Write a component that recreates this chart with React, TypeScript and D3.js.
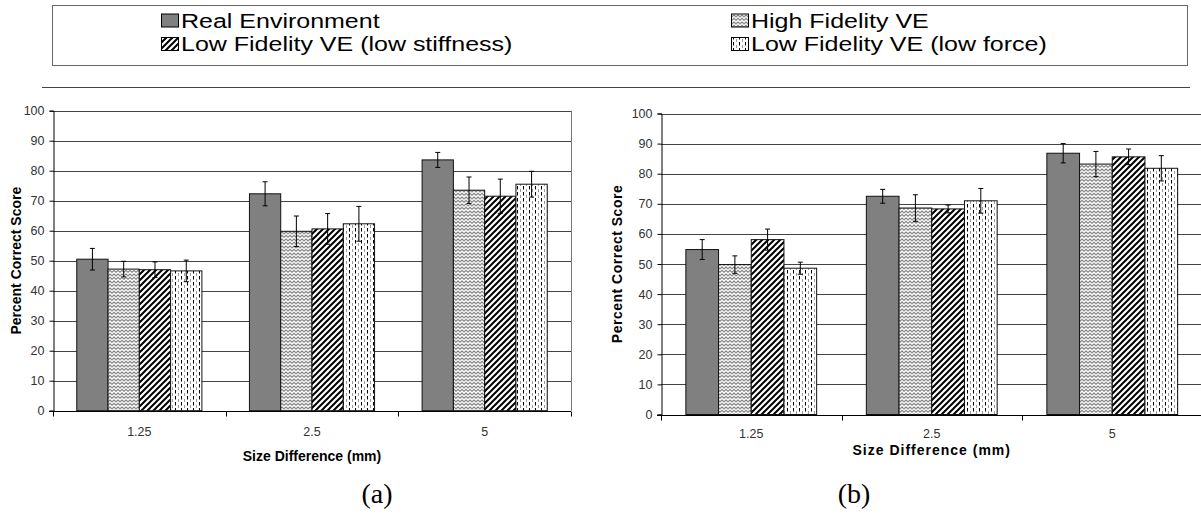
import React, { useEffect, useRef } from 'react';
import * as d3 from 'd3';

const width = 1201;
const height = 519;

const categories = ['1.25', '2.5', '5'];
const seriesNames = [
  'Real Environment',
  'High Fidelity VE',
  'Low Fidelity VE (low stiffness)',
  'Low Fidelity VE (low force)',
];
const seriesKeys = ['real', 'high', 'stiff', 'force'];

// panel (a) - means and error half-widths per series, by size difference
const realA = [50.5, 72.3, 83.6];
const highA = [47.2, 59.8, 73.5];
const stiffA = [47.0, 60.6, 71.5];
const forceA = [46.6, 62.3, 75.5];
const realErrA = [3.6, 4.0, 2.5];
const highErrA = [2.6, 5.1, 4.4];
const stiffErrA = [2.6, 5.1, 5.7];
const forceErrA = [3.6, 5.8, 4.3];

// panel (b)
const realB = [54.8, 72.5, 86.8];
const highB = [49.8, 68.6, 83.2];
const stiffB = [58.1, 68.3, 85.6];
const forceB = [48.6, 71.0, 81.8];
const realErrB = [3.3, 2.3, 3.2];
const highErrB = [2.9, 4.4, 4.2];
const stiffErrB = [3.5, 1.3, 2.6];
const forceErrB = [2.0, 4.1, 4.2];

const fills = ['#808080', 'url(#pat-high)', 'url(#pat-stiff)', 'url(#pat-force)'];

interface IPanel {
  label: string;
  values: number[][];
  errors: number[][];
  left: number;
  right: number;
  top: number;
  bottom: number;
  yTitleX: number;
  tickBaseline: number;
  titleBaseline: number;
  titleSpacing: number;
  labelX: number;
}

const panels: IPanel[] = [
  {
    label: '(a)',
    values: [realA, highA, stiffA, forceA],
    errors: [realErrA, highErrA, stiffErrA, forceErrA],
    left: 53,
    right: 571,
    top: 110.7,
    bottom: 410.7,
    yTitleX: 21,
    tickBaseline: 436,
    titleBaseline: 461,
    titleSpacing: 0,
    labelX: 377,
  },
  {
    label: '(b)',
    values: [realB, highB, stiffB, forceB],
    errors: [realErrB, highErrB, stiffErrB, forceErrB],
    left: 661,
    right: 1202.5,
    top: 113.5,
    bottom: 414.5,
    yTitleX: 622,
    tickBaseline: 438,
    titleBaseline: 455,
    titleSpacing: 1,
    labelX: 854,
  },
];

const font = "'Liberation Sans', Arial, sans-serif";

const App: React.FC = () => {
  const containerRef = useRef<HTMLDivElement>(null);

  useEffect(() => {
    if (containerRef && containerRef.current) {
      drawFigure(containerRef.current);
    }
  }, [containerRef]);

  return <div ref={containerRef} style={{ position: 'absolute', left: 0, top: 0 }}></div>;
};

const drawFigure = (container: HTMLDivElement) => {
  d3.select(container).selectAll('*').remove();
  const svg = d3
    .select(container)
    .append('svg')
    .attr('width', width)
    .attr('height', height)
    .style('display', 'block')
    .style('background', '#fff');

  const defs = svg.append('defs');

  // zigzag
  const high = defs
    .append('pattern')
    .attr('id', 'pat-high')
    .attr('patternUnits', 'userSpaceOnUse')
    .attr('width', 4)
    .attr('height', 3.5);
  high.append('rect').attr('width', 4).attr('height', 3.5).attr('fill', '#fff');
  high
    .append('path')
    .attr('d', 'M-2,1 L0,2.8 L2,1 L4,2.8 L6,1')
    .attr('fill', 'none')
    .attr('stroke', '#666')
    .attr('stroke-width', 1);

  // diagonal stripes
  const stiff = defs
    .append('pattern')
    .attr('id', 'pat-stiff')
    .attr('patternUnits', 'userSpaceOnUse')
    .attr('width', 6)
    .attr('height', 6);
  stiff.append('rect').attr('width', 6).attr('height', 6).attr('fill', '#fff');
  stiff
    .append('path')
    .attr('d', 'M-1,7 L7,-1 M-1,1 L1,-1 M5,7 L7,5')
    .attr('stroke', '#000')
    .attr('stroke-width', 2);

  // vertical dashes
  const force = defs
    .append('pattern')
    .attr('id', 'pat-force')
    .attr('patternUnits', 'userSpaceOnUse')
    .attr('width', 6)
    .attr('height', 6);
  force.append('rect').attr('width', 6).attr('height', 6).attr('fill', '#fff');
  force
    .append('path')
    .attr('d', 'M1.5,0 L1.5,3.5')
    .attr('stroke', '#000')
    .attr('stroke-width', 1);
  force
    .append('path')
    .attr('d', 'M4.5,3 L4.5,6.5')
    .attr('stroke', '#999')
    .attr('stroke-width', 1);

  drawLegend(svg);
  panels.forEach((p) => drawPanel(svg, p));
};

const drawLegend = (svg: d3.Selection<SVGSVGElement, unknown, null, undefined>) => {
  const g = svg.append('g');
  g.append('rect')
    .attr('x', 52.5)
    .attr('y', 5.5)
    .attr('width', 1135)
    .attr('height', 60)
    .attr('fill', '#fff')
    .attr('stroke', '#666');

  g.append('line')
    .attr('x1', 42)
    .attr('x2', 1190)
    .attr('y1', 87.5)
    .attr('y2', 87.5)
    .attr('stroke', '#444');

  const cols = [161, 731];
  const rows = [20.5, 44];
  // left column: real / low stiffness, right column: high / low force
  seriesNames.forEach((name, si) => {
    const x = cols[si % 2];
    const y = rows[si < 2 ? 0 : 1];
    g.append('rect')
      .attr('x', x + 0.5)
      .attr('y', y - 6.5)
      .attr('width', 17)
      .attr('height', 13)
      .attr('fill', fills[si])
      .attr('stroke', '#000');
    g.append('text')
      .attr('transform', `translate(${x + 20},${y + 7.2}) scale(1.25,1)`)
      .style('font-family', font)
      .style('font-size', '20px')
      .attr('fill', '#000')
      .text(name);
  });
};

const drawPanel = (svg: d3.Selection<SVGSVGElement, unknown, null, undefined>, p: IPanel) => {
  const x0 = d3.scaleBand().domain(categories).range([p.left, p.right]);
  const x1 = d3.scaleBand().domain(seriesKeys).range([0, x0.bandwidth()]).paddingOuter(0.76);
  const y = d3.scaleLinear().domain([0, 100]).range([p.bottom, p.top]);

  const g = svg.append('g');

  // gridlines
  g.selectAll('.grid')
    .data(y.ticks(10).filter((d) => d > 0))
    .enter()
    .append('line')
    .attr('x1', p.left)
    .attr('x2', p.right)
    .attr('y1', (d) => Math.round(y(d)) + 0.5)
    .attr('y2', (d) => Math.round(y(d)) + 0.5)
    .attr('stroke', '#444')
    .attr('stroke-width', 1);

  // right frame edge
  g.append('line')
    .attr('x1', Math.round(p.right) + 0.5)
    .attr('x2', Math.round(p.right) + 0.5)
    .attr('y1', y(100))
    .attr('y2', y(0))
    .attr('stroke', '#777');

  // bars
  seriesKeys.forEach((key, si) => {
    const rows = categories.map((c, ci) => ({ c, v: p.values[si][ci], e: p.errors[si][ci] }));
    const sg = g.append('g');
    sg.selectAll('rect')
      .data(rows)
      .enter()
      .append('rect')
      .attr('x', (d) => x0(d.c)! + x1(key)!)
      .attr('y', (d) => y(d.v))
      .attr('width', x1.bandwidth())
      .attr('height', (d) => y(0) - y(d.v))
      .attr('fill', fills[si])
      .attr('stroke', '#111')
      .attr('stroke-width', 1);

    const cx = (d: { c: string }) => x0(d.c)! + x1(key)! + x1.bandwidth() / 2;
    sg.selectAll('path.err')
      .data(rows)
      .enter()
      .append('path')
      .attr(
        'd',
        (d) =>
          `M${cx(d)},${y(d.v + d.e)} L${cx(d)},${y(d.v - d.e)} ` +
          `M${cx(d) - 2.5},${y(d.v + d.e)} L${cx(d) + 2.5},${y(d.v + d.e)} ` +
          `M${cx(d) - 2.5},${y(d.v - d.e)} L${cx(d) + 2.5},${y(d.v - d.e)}`
      )
      .attr('fill', 'none')
      .attr('stroke', '#000')
      .attr('stroke-width', 1);
  });

  // y axis
  const yAxisG = g
    .append('g')
    .attr('transform', `translate(${Math.round(p.left) + 0.5},0)`)
    .call(d3.axisLeft(y).ticks(10).tickSize(4).tickPadding(5));
  yAxisG.selectAll('.domain, .tick line').attr('stroke', '#000');
  yAxisG
    .selectAll('text')
    .style('font-family', font)
    .style('font-size', '12.5px')
    .attr('fill', '#333');

  // x axis line and group boundary ticks
  const xAxisY = Math.round(y(0)) + 0.5;
  g.append('line')
    .attr('x1', p.left - 4)
    .attr('x2', p.right)
    .attr('y1', xAxisY)
    .attr('y2', xAxisY)
    .attr('stroke', '#000');
  g.selectAll('.xtick')
    .data([...categories.map((c) => x0(c)!), p.right])
    .enter()
    .append('line')
    .attr('x1', (d) => Math.round(d) + 0.5)
    .attr('x2', (d) => Math.round(d) + 0.5)
    .attr('y1', xAxisY)
    .attr('y2', xAxisY + 5)
    .attr('stroke', '#000');

  g.selectAll('.xlabel')
    .data(categories)
    .enter()
    .append('text')
    .attr('x', (d) => x0(d)! + x0.bandwidth() / 2)
    .attr('y', p.tickBaseline)
    .attr('text-anchor', 'middle')
    .style('font-family', font)
    .style('font-size', '12.5px')
    .attr('fill', '#333')
    .text((d) => d);

  g.append('text')
    .attr('x', (p.left + p.right) / 2)
    .attr('y', p.titleBaseline)
    .attr('text-anchor', 'middle')
    .style('font-family', font)
    .style('font-size', '14px')
    .style('font-weight', 'bold')
    .style('letter-spacing', `${p.titleSpacing}px`)
    .text('Size Difference (mm)');

  g.append('text')
    .attr('transform', `translate(${p.yTitleX},${(p.top + p.bottom) / 2}) rotate(-90)`)
    .attr('text-anchor', 'middle')
    .style('font-family', font)
    .style('font-size', '14px')
    .style('font-weight', 'bold')
    .style('letter-spacing', `${p.titleSpacing * 0.5}px`)
    .text('Percent Correct Score');

  g.append('text')
    .attr('x', p.labelX)
    .attr('y', 503)
    .attr('text-anchor', 'middle')
    .style('font-family', "'Liberation Serif', 'Times New Roman', serif")
    .style('font-size', '28px')
    .text(p.label);
};

export default App;
